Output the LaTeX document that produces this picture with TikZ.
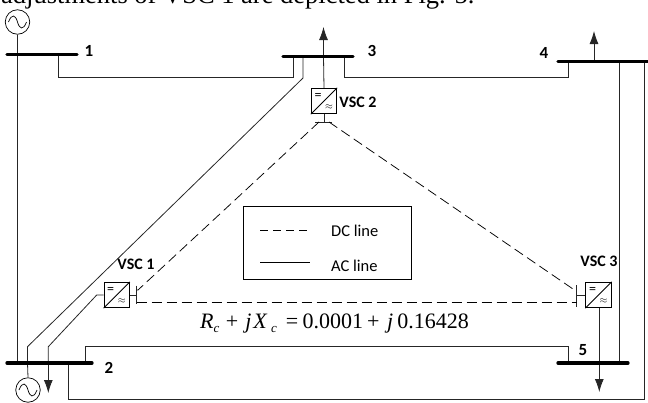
\documentclass[tikz,border=0pt]{standalone}
\usepackage{fontspec}
\setmainfont{Carlito}
\newfontfamily\timesf{Liberation Serif}
\usetikzlibrary{arrows.meta,calc}
\newcommand{\subc}{\raisebox{-4.5pt}{\fontsize{13}{13}\selectfont\itshape c}}
\tikzset{x=1pt,y=-1pt,
 bus/.style={line width=3.3pt,line cap=round},
 wire/.style={line width=0.8pt,black!85},
 dcl/.style={line width=0.75pt,dash pattern=on 10pt off 5pt},
 vsc/.style={draw,line width=0.8pt,minimum size=25.5pt,inner sep=0pt,fill=white},
 gen/.style={draw,circle,line width=0.7pt,minimum size=24.5pt,inner sep=0pt,fill=white},
 load/.style={wire,-{Latex[length=13pt,width=9pt]}},
 lab/.style={font=\bfseries\fontsize{17}{19}\selectfont,inner sep=0pt},
 vlab/.style={font=\bfseries\fontsize{16}{18}\selectfont,inner sep=0pt},
 leg/.style={font=\fontsize{16.5}{19}\selectfont,inner sep=0pt,anchor=west}}
\newcommand{\vscmark}[1]{
 \draw[line width=0.8pt] (#1.south west)--(#1.north east);
 \node[inner sep=0pt,font=\fontsize{14}{14}\selectfont] at ($(#1.center)+(-6,-5)$) {=};
 \node[inner sep=0pt,font=\fontsize{10}{10}\selectfont] at ($(#1.center)+(5,6.5)$) {$\approx$};}
\newcommand{\sinemark}[1]{
 \draw[line width=0.7pt] ($(#1.center)+(-9,0)$) .. controls ($(#1.center)+(-5.5,-9)$) and ($(#1.center)+(-2,-7)$) .. (#1.center) .. controls ($(#1.center)+(2,7)$) and ($(#1.center)+(5.5,9)$) .. ($(#1.center)+(9,0)$);}
\begin{document}
\begin{tikzpicture}
\useasboundingbox (0,0) rectangle (648,402);
\node[font=\timesf\fontsize{26.5}{28}\selectfont,inner sep=0pt,anchor=base west] (cap) at (1,3) {adjustments of VSC 1 are depicted in Fig. 5.};
% bus end points
\coordinate (b1a) at (7,54.5); \coordinate (b1b) at (77,54.5);
\coordinate (b2a) at (7,363); \coordinate (b2b) at (92,363);
\coordinate (b3a) at (283,56.7); \coordinate (b3b) at (353,56.7);
\coordinate (b4a) at (558,61.3); \coordinate (b4b) at (650,61.3);
\coordinate (b5a) at (558,363); \coordinate (b5b) at (628,363);
% converters and generators
\node[gen] (g1) at (17.5,22) {};
\node[gen] (g2) at (28,390) {};
\node[vsc] (v2) at (324,101) {};
\node[vsc] (v1) at (116.7,295) {};
\node[vsc] (v3) at (598.5,295) {};
% AC lines
\draw[wire] (58.5,54.5)--(58.5,77)--(293,77)--(293,56.7);
\draw[wire] (344,56.7)--(344,77)--(568.7,77)--(568.7,61.3);
\draw[wire] (g1.south)--(17.5,363);
\draw[wire] (303,56.7)--(303,78)--(27.5,346.7)--(27.5,363)--(g2.north);
\draw[wire] (v1.west)--(96.7,295)--(48.3,346.7)--(48.3,363);
\draw[load] (48.3,363)--(48.3,393);
\draw[wire] (85,363)--(85,346.7)--(568.7,346.7)--(568.7,363);
\draw[wire] (68.3,363)--(68.3,399.5)--(644.5,399.5)--(644.5,61.3);
\draw[wire] (619.7,61.3)--(619.7,363);
\draw[load] (323.5,56.7)--(323.5,27);
\draw[wire] (323.5,56.7)--(v2.north);
\draw[load] (594,61.3)--(594,31);
\draw[wire] (599.3,308)--(599.3,363);
\draw[load] (599.3,363)--(599.3,392);
% buses
\draw[bus] (b1a)--(b1b);
\draw[bus] (b2a)--(b2b);
\draw[bus] (b3a)--(b3b);
\draw[bus] (b4a)--(b4b);
\draw[bus] (b5a)--(b5b);
\sinemark{g1}\sinemark{g2}
\vscmark{v1}\vscmark{v2}\vscmark{v3}
% DC side
\coordinate (t2l) at (315,122); \coordinate (t2r) at (332,122);
\coordinate (t1t) at (136.7,285.7); \coordinate (t1b) at (136.7,304);
\coordinate (t3t) at (576.7,285); \coordinate (t3b) at (576.7,306.7);
\draw[wire] (v2.south)--(324,122);
\draw[wire] (t2l)--(t2r);
\draw[wire] (v1.east)--(136.7,295);
\draw[wire] (t1t)--(t1b);
\draw[wire] (v3.west)--(576.7,295);
\draw[wire] (t3t)--(t3b);
\draw[dcl] (319,122)--(138,290)--(136.7,290);
\draw[dcl] (329,122)--(573,289)--(576.7,289);
\draw[dcl] (t1b |- 0,302.3)--(t3b |- 0,302.3);
% labels
\node[lab] (n1) at (89,50.7) {1};
\node[lab] (n2) at (109,368) {2};
\node[lab] (n3) at (372,50.7) {3};
\node[lab] (n4) at (544,52.7) {4};
\node[lab] (n5) at (583,350) {5};
\node[vlab] (lv2) at (358,102) {VSC 2};
\node[vlab] (lv1) at (136,264) {VSC 1};
\node[vlab] (lv3) at (599,261) {VSC 3};
% legend
\node[draw,line width=0.8pt,minimum width=168pt,minimum height=73.5pt,inner sep=0pt] (lg) at (327.5,242.7) {};
\coordinate (d1) at (260,230); \coordinate (d2) at (308,230);
\coordinate (s1) at (260,262.3); \coordinate (s2) at (310,262.3);
\draw[line width=0.7pt,dash pattern=on 8pt off 5pt] (d1)--(d2);
\draw[line width=0.7pt] (s1)--(s2);
\node[leg] (tdc) at (331,230.7) {DC line};
\node[leg] (tac) at (331,265.7) {AC line};
\node[font=\timesf\fontsize{22}{24}\selectfont,inner sep=0pt,anchor=base west] (eq) at (200,328.3) {\textit{R}\subc\hspace{6.5pt}+\hspace{7pt}\textit{j}\hspace{2pt}\textit{X}\hspace{3.5pt}\subc\hspace{9pt}=\hspace{4.5pt}0.0001\hspace{4pt}+\hspace{7.5pt}\textit{j}\hspace{4pt}0.16428};
\end{tikzpicture}
\end{document}
